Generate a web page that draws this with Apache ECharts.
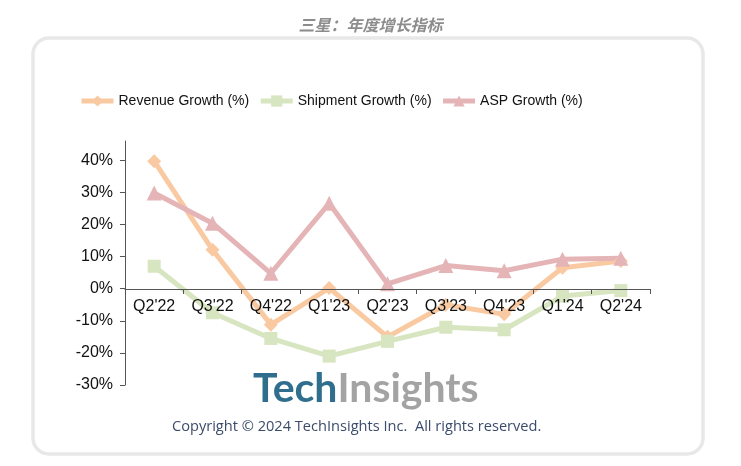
<!DOCTYPE html>
<html><head><meta charset="utf-8">
<script src="https://cdn.jsdelivr.net/npm/echarts@6/dist/echarts.min.js"></script>
<style>html,body{margin:0;padding:0;background:#fff}#c{width:741px;height:466px}</style>
</head><body><div id="c"></div>
<script>
const categories = ["Q2'22","Q3'22","Q4'22","Q1'23","Q2'23","Q3'23","Q4'23","Q1'24","Q2'24"];
const revenueGrowth = [39.7, 12.1, -11.2, 0.2, -15, -5, -8, 6.5, 8.6];
const shipmentGrowth = [7, -7.5, -15.5, -21, -16.4, -12, -12.8, -2.3, -0.6];
const aspGrowth = [29.8, 20.4, 4.8, 26.6, 1.5, 7.2, 5.6, 9.2, 9.5];
const yTicks = [-30, -20, -10, 0, 10, 20, 30, 40];

const chart = echarts.init(document.getElementById('c'));
const font = '"Liberation Sans", Arial, sans-serif';
function mk(name, data, color, symbol, size) {
  return { name, type: 'line', data, symbol, symbolSize: size,
    lineStyle: { color, width: 5 }, itemStyle: { color },
    emphasis: { disabled: true } };
}
chart.setOption({
  animation: false,
  title: { text: '三星：年度增长指标', left: 'center', top: 12,
    textStyle: { fontFamily: '"Noto Sans CJK SC"', fontStyle: 'italic', fontWeight: 'bold', fontSize: 16, color: '#8c8c8c' } },
  graphic: [
    { type: 'rect', shape: { x: 33, y: 38, width: 670, height: 416, r: 16 },
      style: { fill: '#fff', stroke: '#e8e8e8', lineWidth: 3.5 }, z: -10 },
    { type: 'text', left: 253, top: 368,
      style: { text: '{a|Tech}{b|Insights}', rich: {
        a: { fontFamily: 'Lato', fontWeight: 'bold', fontSize: 41, fill: '#2f6e8c' },
        b: { fontFamily: 'Lato', fontWeight: 'bold', fontSize: 41, fill: '#a3a3a3' } } } },
    { type: 'text', left: 172, top: 419,
      style: { text: 'Copyright © 2024 TechInsights Inc.  All rights reserved.', fontFamily: '"Open Sans", sans-serif', fontSize: 14.6, fill: '#3b4b6b' } }
  ],
  legend: { left: 79, top: 94, padding: 0, itemWidth: 32, itemHeight: 14, itemGap: 9,
    lineStyle: { width: 5 },
    textStyle: { fontFamily: font, fontSize: 14, color: '#111' },
    data: ['Revenue Growth (%)', 'Shipment Growth (%)', 'ASP Growth (%)'] },
  grid: { left: 125, right: 91, top: 141, bottom: 81, containLabel: false },
  xAxis: { type: 'category', data: categories, boundaryGap: true, offset: -96, z: 5,
    axisLine: { onZero: false, lineStyle: { color: '#555', width: 1 } },
    axisTick: { show: true, length: 5, lineStyle: { color: '#555' } },
    axisLabel: { fontFamily: font, fontSize: 16, color: '#111', margin: 10 },
    splitLine: { show: false } },
  yAxis: { type: 'value', min: -30, max: 46,
    axisLine: { show: true, lineStyle: { color: '#555' } },
    axisTick: { show: true, length: 5, customValues: yTicks, lineStyle: { color: '#555' } },
    axisLabel: { customValues: yTicks, formatter: v => v + '%', fontFamily: font, fontSize: 16, color: '#111', margin: 12 },
    splitLine: { show: false } },
  series: [
    mk('Revenue Growth (%)', revenueGrowth, '#f9caa2', 'diamond', 14),
    mk('Shipment Growth (%)', shipmentGrowth, '#d7e5c0', 'rect', 13),
    mk('ASP Growth (%)', aspGrowth, '#e5b4b7', 'triangle', 15)
  ]
});
</script></body></html>
